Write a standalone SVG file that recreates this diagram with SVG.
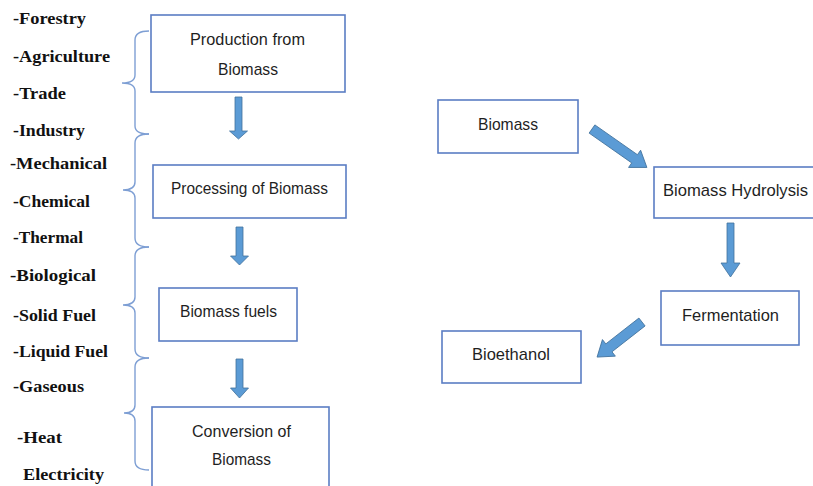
<svg xmlns="http://www.w3.org/2000/svg" width="813" height="486" viewBox="0 0 813 486">
<style>
.box{fill:#fff;stroke:#5b7dc4;stroke-width:1.6}
.bt{font-family:"Liberation Sans",Arial,sans-serif;font-size:17px;fill:#1f1f1f;text-anchor:start}
.lt{font-family:"Liberation Serif","Times New Roman",serif;font-size:17px;font-weight:bold;fill:#111}
.arr{fill:#5b9bd5;stroke:#41719c;stroke-width:0.8}
.brace{fill:none;stroke:#7e9fd4;stroke-width:1.4}
</style>
<rect width="813" height="486" fill="#fff"/>

<g id="labels">
<text class="lt" x="13" y="24" textLength="73" lengthAdjust="spacingAndGlyphs">-Forestry</text>
<text class="lt" x="13" y="62" textLength="97" lengthAdjust="spacingAndGlyphs">-Agriculture</text>
<text class="lt" x="13" y="99" textLength="53" lengthAdjust="spacingAndGlyphs">-Trade</text>
<text class="lt" x="13" y="136" textLength="72" lengthAdjust="spacingAndGlyphs">-Industry</text>
<text class="lt" x="10" y="169" textLength="97" lengthAdjust="spacingAndGlyphs">-Mechanical</text>
<text class="lt" x="13" y="207" textLength="77" lengthAdjust="spacingAndGlyphs">-Chemical</text>
<text class="lt" x="13" y="243" textLength="70" lengthAdjust="spacingAndGlyphs">-Thermal</text>
<text class="lt" x="10" y="281" textLength="86" lengthAdjust="spacingAndGlyphs">-Biological</text>
<text class="lt" x="13" y="321" textLength="83" lengthAdjust="spacingAndGlyphs">-Solid Fuel</text>
<text class="lt" x="13" y="357" textLength="95" lengthAdjust="spacingAndGlyphs">-Liquid Fuel</text>
<text class="lt" x="13" y="392" textLength="71" lengthAdjust="spacingAndGlyphs">-Gaseous</text>
<text class="lt" x="17" y="443" textLength="45" lengthAdjust="spacingAndGlyphs">-Heat</text>
<text class="lt" x="23" y="480" textLength="81" lengthAdjust="spacingAndGlyphs">Electricity</text>
</g>

<g id="braces">
<path class="brace" d="M149,31 Q135,31 135,40 L135,75 Q135,83 122,83 Q135,83 135,91 L135,126 Q135,134 149,134"/>
<path class="brace" d="M149,134 Q135,134 135,143 L135,182 Q135,190 123,190 Q135,190 135,198 L135,238 Q135,247 149,247"/>
<path class="brace" d="M149,247 Q135,247 135,256 L135,297 Q135,305 123,305 Q135,305 135,313 L135,349 Q135,358 149,358"/>
<path class="brace" d="M149,358 Q135,358 135,367 L135,405 Q135,413 124,413 Q135,413 135,421 L135,461 Q135,470 149,470"/>
</g>

<g id="connectors">
<path class="arr" d="M235,97 L242,97 L242,131 L247.5,131 L238.5,139 L229.5,131 L235,131 Z"/>
<path class="arr" d="M236,227 L243,227 L243,256 L248.5,256 L239.5,265 L230.5,256 L236,256 Z"/>
<path class="arr" d="M236,359 L243,359 L243,388 L248.5,388 L239.5,398 L230.5,388 L236,388 Z"/>
<path class="arr" d="M727,223 L734,223 L734,263 L740,263 L730.5,277 L721,263 L727,263 Z"/>
<g transform="translate(592,129) rotate(35)">
<path class="arr" d="M0,-5 L52,-5 L52,-10.5 L67,0 L52,10.5 L52,5 L0,5 Z"/>
</g>
<g transform="translate(642,322) rotate(142)">
<path class="arr" d="M0,-5 L42,-5 L42,-10.5 L57,0 L42,10.5 L42,5 L0,5 Z"/>
</g>
</g>

<g id="n-production">
<rect class="box" x="151" y="15" width="194" height="77"/>
<text class="bt" x="190" y="45" textLength="115" lengthAdjust="spacingAndGlyphs">Production from</text>
<text class="bt" x="218" y="75" textLength="60" lengthAdjust="spacingAndGlyphs">Biomass</text>
</g>
<g id="n-processing">
<rect class="box" x="153" y="165" width="193" height="53"/>
<text class="bt" x="171" y="194" textLength="157" lengthAdjust="spacingAndGlyphs">Processing of Biomass</text>
</g>
<g id="n-fuels">
<rect class="box" x="159" y="288" width="138" height="53"/>
<text class="bt" x="180" y="317" textLength="97" lengthAdjust="spacingAndGlyphs">Biomass fuels</text>
</g>
<g id="n-conversion">
<rect class="box" x="152" y="407" width="177" height="95"/>
<text class="bt" x="192" y="437" textLength="99" lengthAdjust="spacingAndGlyphs">Conversion of</text>
<text class="bt" x="212" y="465" textLength="59" lengthAdjust="spacingAndGlyphs">Biomass</text>
</g>

<g id="n-biomass">
<rect class="box" x="438" y="100" width="140" height="53"/>
<text class="bt" x="478" y="130" textLength="60" lengthAdjust="spacingAndGlyphs">Biomass</text>
</g>
<g id="n-hydrolysis">
<rect class="box" x="654" y="167" width="170" height="51"/>
<text class="bt" x="663" y="196" textLength="145" lengthAdjust="spacingAndGlyphs">Biomass Hydrolysis</text>
</g>
<g id="n-fermentation">
<rect class="box" x="661" y="291" width="138" height="54"/>
<text class="bt" x="682" y="321" textLength="97" lengthAdjust="spacingAndGlyphs">Fermentation</text>
</g>
<g id="n-bioethanol">
<rect class="box" x="442" y="331" width="139" height="52"/>
<text class="bt" x="472" y="360" textLength="78" lengthAdjust="spacingAndGlyphs">Bioethanol</text>
</g>
</svg>
